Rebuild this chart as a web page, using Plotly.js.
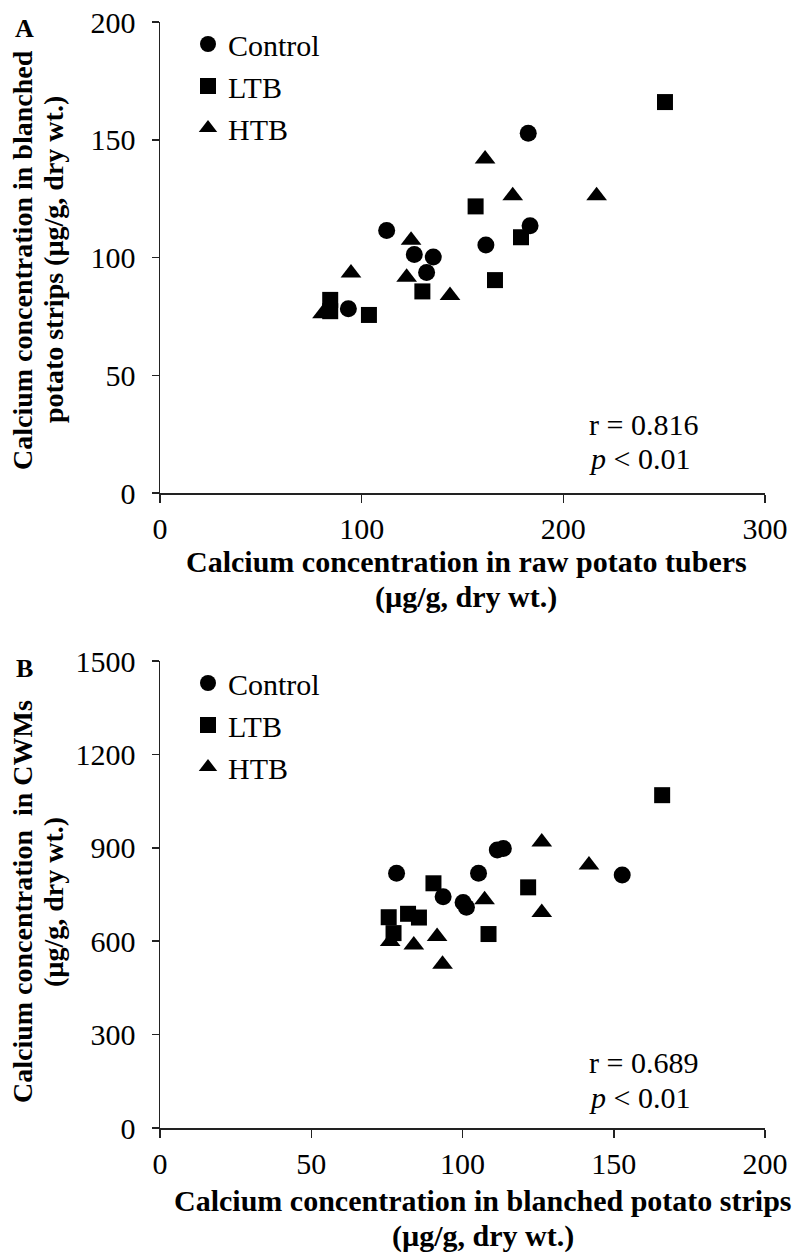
<!DOCTYPE html>
<html>
<head>
<meta charset="utf-8">
<script src="https://cdn.plot.ly/plotly-3.0.1.min.js"></script>
<style>html,body{margin:0;padding:0;background:#fff;}#chart{width:800px;height:1252px;}</style>
</head>
<body>
<div id="chart"></div>
<script>
// ---- data ----
const groups = ["Control", "LTB", "HTB"];
const symbols = ["circle", "square", "triangle-up"];

// Calcium in raw potato tubers (µg/g, dry wt.)
const ctrlRaw = [182.6, 112.4, 183.5, 161.6, 126.1, 135.5, 132.2, 93.4];
const ltbRaw  = [250.4, 156.5, 179.0, 166.1, 130.1, 84.4, 84.4, 103.6];
const htbRaw  = [161.2, 174.9, 216.5, 124.5, 94.7, 122.3, 143.8, 80.6];

// Calcium in blanched potato strips (µg/g, dry wt.)
const ctrlBlanched = [152.8, 111.5, 113.5, 105.3, 101.3, 100.2, 93.6, 78.2];
const ltbBlanched  = [166.0, 121.7, 108.6, 90.4, 85.6, 82.0, 77.2, 75.6];
const htbBlanched  = [141.8, 126.2, 126.2, 107.3, 93.4, 91.6, 83.9, 76.1];

// Calcium in CWMs (µg/g, dry wt.)
const ctrlCWM = [813, 893, 898, 818, 709, 724, 743, 818];
const ltbCWM  = [1069, 773, 623, 786, 676, 688, 626, 677];
const htbCWM  = [845, 919, 692, 733, 526, 615, 588, 599];

const statsA = ["r = 0.816", "<i>p</i> &lt; 0.01"];
const statsB = ["r = 0.689", "<i>p</i> &lt; 0.01"];

const xTitleA = ["Calcium concentration in raw potato tubers", "(µg/g, dry wt.)"];
const yTitleA = ["Calcium concentration in blanched", "potato strips (µg/g, dry wt.)"];
const xTitleB = ["Calcium concentration in blanched potato strips", "(µg/g, dry wt.)"];
const yTitleB = ["Calcium concentration\u00a0 in CWMs", "(µg/g, dry wt.)"];

// ---- layout geometry ----
const W = 800, H = 1252;
const M = {l: 160, r: 35, t: 22, b: 124};
const plotW = W - M.l - M.r, plotH = H - M.t - M.b;
const px2x = p => (p - M.l) / plotW;
const px2y = p => (H - M.b - p) / plotH;

const FONT = '"Liberation Serif", "Times New Roman", Times, serif';
const rawX = [ctrlRaw, ltbRaw, htbRaw];
const blY = [ctrlBlanched, ltbBlanched, htbBlanched];
const cwmY = [ctrlCWM, ltbCWM, htbCWM];
const sizes = [17, 16, 18];

const traces = [];
groups.forEach((g, i) => {
  traces.push({
    type: "scatter", mode: "markers", name: g,
    x: rawX[i], y: blY[i], xaxis: "x", yaxis: "y",
    marker: {symbol: symbols[i], size: sizes[i], color: "#000", line: {width: 0}},
    legend: "legend", cliponaxis: false
  });
});
groups.forEach((g, i) => {
  traces.push({
    type: "scatter", mode: "markers", name: g,
    x: blY[i], y: cwmY[i], xaxis: "x2", yaxis: "y2",
    marker: {symbol: symbols[i], size: sizes[i], color: "#000", line: {width: 0}},
    legend: "legend2", cliponaxis: false
  });
});

const axisCommon = {
  showgrid: false, zeroline: false, showline: true, linecolor: "#222", linewidth: 1.5,
  ticks: "outside", ticklen: 8, tickwidth: 1.5, tickcolor: "#222",
  tickfont: {family: FONT, size: 30, color: "#000"}, fixedrange: true
};
const yAxisExtra = {ticklen: 7, ticklabelstandoff: 10};

const yDomA = [px2y(493), 1];
const yDomB = [0, px2y(661)];

function ann(text, xp, yp, opts) {
  return Object.assign({
    text: text, xref: "paper", yref: "paper", x: px2x(xp), y: px2y(yp),
    showarrow: false, xanchor: "center", yanchor: "middle",
    font: {family: FONT, size: 30, color: "#000"}
  }, opts || {});
}
const yTitleFont = {family: FONT, size: 28, color: "#000"};

const annotations = [
  ann("<b>A</b>", 24, 28, {font: {family: FONT, size: 26, color: "#000"}}),
  ann("<b>B</b>", 24, 668, {font: {family: FONT, size: 26, color: "#000"}}),
  ann("<b>" + xTitleA[0] + "</b>", 466, 561),
  ann("<b>" + xTitleA[1] + "</b>", 466, 597),
  ann("<b>" + yTitleA[0] + "</b>", 22, 260, {textangle: -90, font: yTitleFont}),
  ann("<b>" + yTitleA[1] + "</b>", 53, 260, {textangle: -90, font: yTitleFont}),
  ann("<b>" + xTitleB[0] + "</b>", 483, 1200),
  ann("<b>" + xTitleB[1] + "</b>", 483, 1236),
  ann("<b>" + yTitleB[0] + "</b>", 22, 902, {textangle: -90, font: yTitleFont}),
  ann("<b>" + yTitleB[1] + "</b>", 53, 902, {textangle: -90, font: yTitleFont}),
  ann(statsA[0], 587, 424, {xanchor: "left"}),
  ann(statsA[1], 587, 458, {xanchor: "left"}),
  ann(statsB[0], 587, 1062, {xanchor: "left"}),
  ann(statsB[1], 587, 1097, {xanchor: "left"})
];

const legendCommon = {
  bgcolor: "rgba(0,0,0,0)", borderwidth: 0,
  font: {family: FONT, size: 30, color: "#000"},
  xanchor: "left", yanchor: "top", itemsizing: "trace"
};

const layout = {
  width: W, height: H, margin: M,
  paper_bgcolor: "#fff", plot_bgcolor: "#fff",
  showlegend: true,
  xaxis: Object.assign({}, axisCommon, {range: [0, 300], dtick: 100, tick0: 0, anchor: "y", domain: [0, 1]}),
  yaxis: Object.assign({}, axisCommon, yAxisExtra, {range: [0, 200], dtick: 50, tick0: 0, anchor: "x", domain: yDomA}),
  xaxis2: Object.assign({}, axisCommon, {range: [0, 200], dtick: 50, tick0: 0, anchor: "y2", domain: [0, 1]}),
  yaxis2: Object.assign({}, axisCommon, yAxisExtra, {range: [0, 1500], dtick: 300, tick0: 0, anchor: "x2", domain: yDomB}),
  legend: Object.assign({}, legendCommon, {x: px2x(188), y: px2y(18)}),
  legend2: Object.assign({}, legendCommon, {x: px2x(188), y: px2y(657)}),
  annotations: annotations
};

Plotly.newPlot("chart", traces, layout, {staticPlot: true, displayModeBar: false});
</script>
</body>
</html>
